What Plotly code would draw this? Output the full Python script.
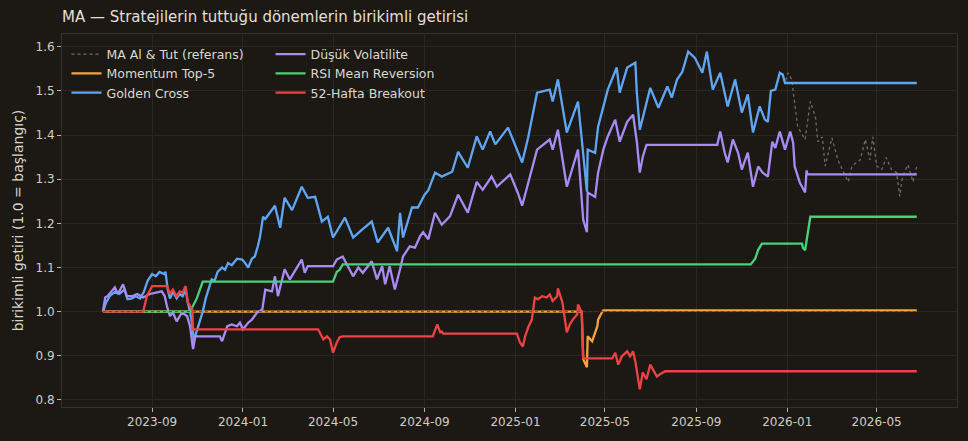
import plotly.graph_objects as go

# ---------------- data ----------------
golden_dates = [
    "2023-06-27","2023-07-01","2023-07-06","2023-07-13","2023-07-19","2023-07-26","2023-07-30",
    "2023-08-05","2023-08-10","2023-08-16","2023-08-21","2023-08-26","2023-09-01","2023-09-06",
    "2023-09-11","2023-09-17","2023-09-19","2023-09-22","2023-09-25","2023-09-29","2023-10-04",
    "2023-10-08","2023-10-12","2023-10-16","2023-10-19","2023-10-22","2023-10-25","2023-10-27",
    "2023-10-29","2023-11-04","2023-11-08","2023-11-12","2023-11-16","2023-11-20","2023-11-24",
    "2023-11-28","2023-12-04","2023-12-08","2023-12-12","2023-12-17","2023-12-24","2023-12-31",
    "2024-01-04","2024-01-08","2024-01-13","2024-01-17","2024-01-21","2024-01-24","2024-01-28",
    "2024-01-31","2024-02-13","2024-02-20","2024-02-26","2024-03-07","2024-03-20","2024-03-28",
    "2024-04-07","2024-04-16","2024-04-24","2024-05-01","2024-05-17","2024-05-28","2024-06-09",
    "2024-06-22","2024-06-30","2024-07-14","2024-07-26","2024-07-30","2024-08-03","2024-08-15",
    "2024-08-23","2024-09-01","2024-09-06","2024-09-15","2024-09-24","2024-10-08","2024-10-16",
    "2024-10-29","2024-11-10","2024-11-18","2024-11-28","2024-12-05","2024-12-22","2025-01-10",
    "2025-01-18","2025-01-30","2025-02-16","2025-02-20","2025-02-27","2025-03-11","2025-03-26",
    "2025-04-07","2025-04-08","2025-04-18","2025-04-22","2025-05-05","2025-05-17","2025-05-21",
    "2025-05-31","2025-06-11","2025-06-13","2025-06-17","2025-07-01","2025-07-12","2025-07-24",
    "2025-07-30","2025-08-06","2025-08-13","2025-08-21","2025-08-30","2025-09-09","2025-09-15",
    "2025-09-23","2025-10-03","2025-10-13","2025-10-23","2025-11-01","2025-11-09","2025-11-16",
    "2025-11-25","2025-12-02","2025-12-06","2025-12-10","2025-12-16","2025-12-22","2025-12-26",
    "2025-12-29","2026-06-24",
]
golden_vals = [
    1.000,1.020,1.035,1.045,1.040,1.050,1.028,
    1.030,1.035,1.030,1.045,1.070,1.085,1.080,
    1.090,1.085,1.090,1.050,1.030,1.045,1.030,
    1.040,1.035,1.050,1.020,1.000,0.970,0.935,
    0.945,0.980,1.000,1.030,1.050,1.073,1.070,
    1.090,1.100,1.095,1.110,1.105,1.120,1.118,
    1.110,1.100,1.120,1.125,1.148,1.170,1.215,
    1.210,1.240,1.190,1.258,1.230,1.283,1.258,
    1.260,1.204,1.215,1.168,1.213,1.168,1.186,
    1.204,1.157,1.190,1.137,1.224,1.168,1.236,
    1.236,1.265,1.275,1.315,1.306,1.317,1.362,
    1.326,1.397,1.367,1.408,1.379,1.417,1.338,
    1.394,1.496,1.503,1.476,1.526,1.406,1.476,
    1.272,1.367,1.360,1.419,1.503,1.553,1.496,
    1.553,1.564,1.496,1.412,1.507,1.462,1.510,
    1.485,1.526,1.543,1.589,1.575,1.541,1.589,
    1.503,1.541,1.465,1.526,1.451,1.492,1.406,
    1.465,1.435,1.430,1.500,1.503,1.541,1.537,
    1.518,1.518,
]

# buy & hold reference: identical to Golden Cross while invested, then its own path
ref_tail_dates = [
    "2026-01-02","2026-01-07","2026-01-09","2026-01-15","2026-01-25","2026-02-01","2026-02-08",
    "2026-02-11","2026-02-17","2026-02-21","2026-03-02","2026-03-10","2026-03-16","2026-03-24",
    "2026-03-29","2026-04-09","2026-04-16","2026-04-22","2026-04-26","2026-05-01","2026-05-08",
    "2026-05-14","2026-05-21","2026-05-28","2026-06-01","2026-06-05","2026-06-12","2026-06-19",
    "2026-06-24",
]
ref_tail_vals = [
    1.541,1.526,1.496,1.419,1.390,1.476,1.440,
    1.385,1.396,1.330,1.394,1.344,1.322,1.294,
    1.330,1.344,1.390,1.344,1.396,1.330,1.322,
    1.349,1.322,1.315,1.261,1.306,1.333,1.294,
    1.330,
]

lowvol_dates = [
    "2023-06-27","2023-06-30","2023-07-03","2023-07-13","2023-07-17","2023-07-24","2023-07-29",
    "2023-08-05","2023-08-12","2023-08-20","2023-08-29","2023-09-08","2023-09-14","2023-09-18",
    "2023-09-21","2023-09-25","2023-09-29","2023-10-04","2023-10-11","2023-10-18","2023-10-22",
    "2023-10-26","2023-10-29","2023-12-01","2023-12-04","2023-12-11","2023-12-17","2023-12-24",
    "2023-12-28","2024-01-01","2024-01-08","2024-01-13","2024-01-20","2024-01-27","2024-01-31",
    "2024-02-09","2024-02-13","2024-02-17","2024-02-26","2024-03-04","2024-03-14","2024-03-20",
    "2024-03-24","2024-03-28","2024-05-01","2024-05-06","2024-05-14","2024-05-21","2024-05-28",
    "2024-06-04","2024-06-10","2024-06-22","2024-06-29","2024-07-06","2024-07-10","2024-07-16",
    "2024-07-23","2024-07-30","2024-08-03","2024-08-12","2024-08-19","2024-08-26","2024-08-30",
    "2024-09-06","2024-09-15","2024-09-24","2024-10-05","2024-10-16","2024-10-29","2024-11-10",
    "2024-11-18","2024-11-30","2024-12-07","2024-12-25","2025-01-04","2025-01-10","2025-01-18",
    "2025-01-30","2025-02-16","2025-02-20","2025-02-27","2025-03-11","2025-03-26","2025-04-02",
    "2025-04-07","2025-04-08","2025-04-18","2025-04-22","2025-04-29","2025-05-05","2025-05-15",
    "2025-05-21","2025-05-31","2025-06-08","2025-06-13","2025-06-17","2025-06-21","2025-06-26",
    "2025-09-29","2025-10-03","2025-10-09","2025-10-13","2025-10-20","2025-10-27","2025-11-01",
    "2025-11-09","2025-11-16","2025-11-23","2025-11-29","2025-12-06","2025-12-12","2025-12-16",
    "2025-12-22","2025-12-29","2026-01-05","2026-01-09","2026-01-11","2026-01-18","2026-01-25",
    "2026-01-27","2026-01-28","2026-06-24",
]
lowvol_vals = [
    1.000,1.032,1.035,1.055,1.040,1.062,1.035,
    1.035,1.040,1.032,1.040,1.043,1.046,1.035,
    1.012,0.990,0.998,0.978,0.998,0.990,0.967,
    0.915,0.944,0.944,0.933,0.967,0.971,0.967,
    0.975,0.960,0.975,0.982,0.998,1.005,1.050,
    1.046,1.080,1.035,1.096,1.073,1.100,1.118,
    1.088,1.103,1.103,1.118,1.125,1.103,1.080,
    1.100,1.088,1.114,1.073,1.103,1.062,1.103,
    1.050,1.096,1.125,1.148,1.145,1.171,1.180,
    1.164,1.224,1.197,1.216,1.265,1.224,1.294,
    1.276,1.306,1.283,1.311,1.270,1.240,1.292,
    1.367,1.390,1.367,1.412,1.283,1.367,1.208,
    1.180,1.270,1.260,1.315,1.367,1.397,1.435,
    1.385,1.430,1.446,1.385,1.315,1.351,1.378,
    1.378,1.408,1.360,1.338,1.390,1.360,1.322,
    1.360,1.283,1.329,1.315,1.306,1.385,1.371,
    1.408,1.367,1.408,1.382,1.329,1.292,1.270,
    1.320,1.311,1.311,
]

rsi_dates = [
    "2023-06-27","2023-10-22","2023-10-31","2023-11-06","2023-11-08","2024-05-01","2024-05-06",
    "2024-05-10","2024-05-14","2025-11-13","2025-11-19","2025-11-23","2025-11-28","2026-01-21",
    "2026-01-22","2026-01-25","2026-01-28","2026-02-01","2026-06-24",
]
rsi_vals = [
    1.000,1.000,1.030,1.060,1.068,1.068,1.090,
    1.095,1.107,1.107,1.120,1.140,1.154,1.154,
    1.145,1.139,1.170,1.215,1.215,
]

mom_dates = [
    "2023-06-27","2025-03-31","2025-04-02","2025-04-07","2025-04-08","2025-04-14","2025-04-21",
    "2025-04-22","2025-04-27","2025-04-29","2026-06-24",
]
mom_vals = [
    1.000,1.000,0.892,0.874,0.944,0.933,0.967,
    0.982,0.998,1.003,1.003,
]

brk_dates = [
    "2023-06-27","2023-08-20","2023-08-25","2023-09-01","2023-09-21","2023-09-25","2023-09-29",
    "2023-10-04","2023-10-08","2023-10-12","2023-10-16","2023-10-19","2023-10-25","2023-10-26",
    "2024-04-11","2024-04-18","2024-04-23","2024-04-27","2024-05-01","2024-05-06","2024-05-10",
    "2024-05-14","2024-09-12","2024-09-18","2024-09-22","2024-09-24","2024-09-26","2025-01-03",
    "2025-01-07","2025-01-11","2025-01-14","2025-01-18","2025-01-23","2025-01-27","2025-01-31",
    "2025-02-06","2025-02-12","2025-02-16","2025-02-20","2025-02-26","2025-02-27","2025-03-05",
    "2025-03-11","2025-03-15","2025-03-19","2025-03-25","2025-03-26","2025-03-31","2025-04-02",
    "2025-05-11","2025-05-15","2025-05-19","2025-05-24","2025-05-31","2025-06-04","2025-06-08",
    "2025-06-11","2025-06-15","2025-06-17","2025-06-21","2025-06-26","2025-07-01","2025-07-05",
    "2025-07-10","2025-07-14","2025-07-18","2025-07-21","2026-06-24",
]
brk_vals = [
    1.000,1.000,1.035,1.058,1.058,1.040,1.050,
    1.035,1.046,1.043,1.058,1.021,1.005,0.960,
    0.960,0.937,0.944,0.937,0.907,0.930,0.942,
    0.944,0.944,0.971,0.953,0.955,0.950,0.950,
    0.930,0.921,0.944,0.964,0.982,1.032,1.028,
    1.035,1.032,1.039,1.024,1.035,1.053,1.021,
    0.953,0.971,0.982,0.994,1.016,0.998,0.894,
    0.894,0.907,0.880,0.899,0.910,0.899,0.910,
    0.887,0.847,0.824,0.862,0.847,0.880,0.869,
    0.853,0.858,0.862,0.865,0.865,
]

baseline_value = 1.0
x_tick_labels = ["2023-09","2024-01","2024-05","2024-09","2025-01","2025-05","2025-09","2026-01","2026-05"]
y_tick_vals = [0.8, 0.9, 1.0, 1.1, 1.2, 1.3, 1.4, 1.5, 1.6]

# ---------------- styling ----------------
BG = "#1c1915"
FONT = "DejaVu Sans"
TXT = "#d9d4cb"
LW = 2.3

ref_dates = golden_dates[:-1] + ref_tail_dates
ref_vals = golden_vals[:-1] + ref_tail_vals

# (name, dates, values, line style, legend group column)
series = [
    ("MA Al & Tut (referans)", ref_dates, ref_vals, dict(color="rgba(140,133,124,0.75)", width=1.3, dash="dot"), "legend"),
    ("Momentum Top-5", mom_dates, mom_vals, dict(color="#f7a23b", width=LW), "legend"),
    ("Golden Cross", golden_dates, golden_vals, dict(color="#5ea6f4", width=LW), "legend"),
    ("Düşük Volatilite", lowvol_dates, lowvol_vals, dict(color="#a98bf5", width=LW), "legend2"),
    ("RSI Mean Reversion", rsi_dates, rsi_vals, dict(color="#48d27a", width=LW), "legend2"),
    ("52-Hafta Breakout", brk_dates, brk_vals, dict(color="#ec4343", width=LW), "legend2"),
]

fig = go.Figure()
for name, d, v, line, leg in series:
    fig.add_trace(go.Scatter(x=d, y=v, mode="lines", name=name, line=line, legend=leg))

# dotted baseline at 1.0 across the data span, drawn on top
fig.add_trace(go.Scatter(
    x=[golden_dates[0], golden_dates[-1]], y=[baseline_value, baseline_value], mode="lines",
    line=dict(color="rgba(70,64,58,0.9)", width=1, dash="dot"), showlegend=False, hoverinfo="skip",
))

leg_common = dict(orientation="v", yanchor="top", xanchor="left", bgcolor="rgba(0,0,0,0)",
                  font=dict(size=12.5, color="#ddd8cf"), traceorder="normal", tracegroupgap=0)

fig.update_layout(
    width=968, height=441,
    paper_bgcolor=BG, plot_bgcolor=BG,
    margin=dict(l=62, r=11, t=34, b=34),
    font=dict(family=FONT, color=TXT, size=12),
    title=dict(text="MA — Stratejilerin tuttuğu dönemlerin birikimli getirisi",
               x=0, xref="paper", xanchor="left", y=1 - 17 / 441, yref="container", yanchor="middle",
               font=dict(size=15, color="#e4dfd6")),
    legend=dict(x=0.005, y=0.985, **leg_common),
    legend2=dict(x=0.233, y=0.985, **leg_common),
    showlegend=True,
)
fig.update_xaxes(
    range=["2023-05-03", "2026-08-17"], type="date",
    tickvals=[t + "-01" for t in x_tick_labels], ticktext=x_tick_labels,
    ticks="outside", ticklen=4, tickcolor="#b8b3aa", tickfont=dict(size=12, color="#d2cdc4"),
    showgrid=True, gridcolor="#2a2722", gridwidth=1,
    showline=True, linecolor="#34302a", mirror=True, zeroline=False,
)
fig.update_yaxes(
    range=[0.784, 1.629], tickvals=y_tick_vals, ticktext=[f"{v:.1f}" for v in y_tick_vals],
    ticks="outside", ticklen=4, tickcolor="#b8b3aa", tickfont=dict(size=12, color="#d2cdc4"),
    showgrid=True, gridcolor="#2a2722", gridwidth=1,
    showline=True, linecolor="#34302a", mirror=True, zeroline=False,
    title=dict(text="birikimli getiri (1.0 = başlangıç)", font=dict(size=14, color="#d9d4cb"), standoff=8),
)

fig.write_html("out.html")
